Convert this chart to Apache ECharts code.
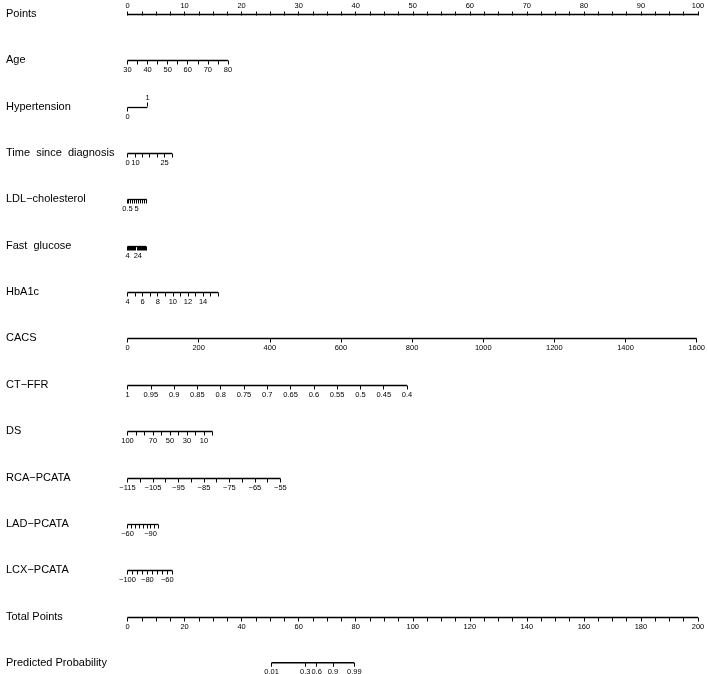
<!DOCTYPE html>
<html>
<head>
<meta charset="utf-8">
<script src="https://cdn.jsdelivr.net/npm/echarts/dist/echarts.min.js"></script>
<style>
  html, body { margin: 0; padding: 0; background: #fff; }
  #nomo { width: 708px; height: 674px; }
</style>
</head>
<body>
<div id="nomo"></div>
<script>
  // tick values per predictor
  const pointsTicks = [0, 2.5, 5, 7.5, 10, 12.5, 15, 17.5, 20, 22.5, 25, 27.5, 30, 32.5, 35, 37.5, 40, 42.5, 45, 47.5, 50,
    52.5, 55, 57.5, 60, 62.5, 65, 67.5, 70, 72.5, 75, 77.5, 80, 82.5, 85, 87.5, 90, 92.5, 95, 97.5, 100];
  const pointsLabels = [0, 10, 20, 30, 40, 50, 60, 70, 80, 90, 100];
  const ageTicks = [30, 35, 40, 45, 50, 55, 60, 65, 70, 75, 80];
  const ageLabels = [30, 40, 50, 60, 70, 80];
  const hyperDown = [0];
  const hyperUp = [1];
  // time since diagnosis is non-linear: ticks given directly in points
  const timePts = [0, 1.3, 2.6, 3.9, 5.2, 6.5, 7.8];
  const timeLabelPts = [0, 1.4, 6.5];
  const timeLabelText = ['0', '10', '25'];
  const ldlTicks = [0.5, 1, 2, 3, 4, 5, 6, 7, 8, 9, 10];
  const ldlLabels = [0.5, 5];
  const glucoseTicks = [4, 6, 8, 10, 12, 14, 16, 18, 20, 22, 24, 26, 28, 30, 32, 34, 36, 38, 40];
  const glucoseLabels = [4, 24];
  const hba1cTicks = [4, 5, 6, 7, 8, 9, 10, 11, 12, 13, 14, 15, 16];
  const hba1cLabels = [4, 6, 8, 10, 12, 14];
  const cacsTicks = [0, 200, 400, 600, 800, 1000, 1200, 1400, 1600];
  const ctffrTicks = [1, 0.95, 0.9, 0.85, 0.8, 0.75, 0.7, 0.65, 0.6, 0.55, 0.5, 0.45, 0.4];
  const dsTicks = [100, 90, 80, 70, 60, 50, 40, 30, 20, 10, 0];
  const dsLabels = [100, 70, 50, 30, 10];
  const rcaTicks = [-115, -110, -105, -100, -95, -90, -85, -80, -75, -70, -65, -60, -55];
  const rcaLabels = [-115, -105, -95, -85, -75, -65, -55];
  const ladTicks = [-60, -65, -70, -75, -80, -85, -90, -95, -100];
  const ladLabels = [-60, -90];
  const lcxTicks = [-100, -95, -90, -85, -80, -75, -70, -65, -60, -55];
  const lcxLabels = [-100, -80, -60];
  const totalTicks = [0, 5, 10, 15, 20, 25, 30, 35, 40, 45, 50, 55, 60, 65, 70, 75, 80, 85, 90, 95, 100,
    105, 110, 115, 120, 125, 130, 135, 140, 145, 150, 155, 160, 165, 170, 175, 180, 185, 190, 195, 200];
  const totalLabels = [0, 20, 40, 60, 80, 100, 120, 140, 160, 180, 200];
  // predicted probability placed on the total points scale
  const probTotal = [50.5, 62.3, 66.3, 72, 79.5];
  const probText = ['0.01', '0.3', '0.6', '0.9', '0.99'];

  // [value, points] at both ends of each scale
  const identityEnds = [[0, 0], [100, 100]];
  const ageEnds = [[30, 0], [80, 17.6]];
  const hyperEnds = [[0, 0], [1, 3.5]];
  const ldlEnds = [[0.5, 0], [10, 3.37]];
  const glucoseEnds = [[4, 0], [40, 3.25]];
  const hba1cEnds = [[4, 0], [16, 15.9]];
  const cacsEnds = [[0, 0], [1600, 100]];
  const ctffrEnds = [[1, 0], [0.4, 49]];
  const dsEnds = [[100, 0], [0, 14.9]];
  const rcaEnds = [[-115, 0], [-55, 26.8]];
  const ladEnds = [[-60, 0], [-100, 5.4]];
  const lcxEnds = [[-100, 0], [-55, 7.85]];
  const totalEnds = [[0, 0], [200, 100]];

  const rows = [
    { name: 'Points', ticks: pointsTicks, labels: pointsLabels, ends: identityEnds, top: true },
    { name: 'Age', ticks: ageTicks, labels: ageLabels, ends: ageEnds },
    { name: 'Hypertension', ticks: hyperDown, labels: hyperDown, up: hyperUp, ends: hyperEnds },
    { name: 'Time  since  diagnosis', ticks: timePts, labels: timeLabelPts, text: timeLabelText, ends: identityEnds },
    { name: 'LDL\u2212cholesterol', ticks: ldlTicks, labels: ldlLabels, ends: ldlEnds },
    { name: 'Fast  glucose', ticks: glucoseTicks, labels: glucoseLabels, ends: glucoseEnds },
    { name: 'HbA1c', ticks: hba1cTicks, labels: hba1cLabels, ends: hba1cEnds },
    { name: 'CACS', ticks: cacsTicks, labels: cacsTicks, ends: cacsEnds },
    { name: 'CT\u2212FFR', ticks: ctffrTicks, labels: ctffrTicks, ends: ctffrEnds },
    { name: 'DS', ticks: dsTicks, labels: dsLabels, ends: dsEnds },
    { name: 'RCA\u2212PCATA', ticks: rcaTicks, labels: rcaLabels, ends: rcaEnds },
    { name: 'LAD\u2212PCATA', ticks: ladTicks, labels: ladLabels, ends: ladEnds },
    { name: 'LCX\u2212PCATA', ticks: lcxTicks, labels: lcxLabels, ends: lcxEnds },
    { name: 'Total Points', ticks: totalTicks, labels: totalLabels, ends: totalEnds },
    { name: 'Predicted Probability', ticks: probTotal, labels: probTotal, text: probText, ends: totalEnds },
  ];

  const FONT = '"Liberation Sans", Arial, Helvetica, sans-serif';
  const grid = [], xAxis = [], yAxis = [], series = [], graphic = [];

  function numText(v) {
    return String(+v.toFixed(2)).replace('-', '\u2212');
  }

  rows.forEach((r, i) => {
    const y = Math.round(14 + i * 46.35) + 0.5;
    const [[v0, p0], [v1, p1]] = r.ends;
    const k = (v1 - v0) / (p1 - p0);
    const a = v0 - p0 * k; // value at 0 points
    const b = v0 + (100 - p0) * k; // value at 100 points

    grid.push({ left: 127.5, right: 10, top: r.top ? y : y - 1, height: 1 });
    yAxis.push({ gridIndex: i, type: 'value', min: 0, max: 1, show: false });

    const makeAxis = (pos, ticks, labels, text) => ({
      gridIndex: i,
      type: 'value',
      position: pos,
      min: Math.min(a, b),
      max: Math.max(a, b),
      inverse: a > b,
      axisLine: { show: false },
      splitLine: { show: false },
      axisTick: { show: true, customValues: ticks, length: 4, lineStyle: { color: '#000', width: 1 } },
      axisLabel: {
        customValues: labels,
        showMinLabel: true,
        showMaxLabel: true,
        margin: 5,
        fontSize: 7.5,
        fontFamily: FONT,
        color: '#000',
        formatter: (v) => {
          if (!text) return numText(v);
          const j = labels.findIndex((l) => Math.abs(l - v) < 1e-9);
          return j >= 0 ? text[j] : '';
        },
      },
    });

    const xi = xAxis.length;
    xAxis.push(makeAxis(r.top ? 'top' : 'bottom', r.ticks, r.labels, r.text));
    if (r.up) {
      xAxis.push(makeAxis('top', r.up, r.up));
    }

    const all = r.ticks.concat(r.up || []);
    const lo = Math.min(...all), hi = Math.max(...all);
    const yv = r.top ? 1 : 0;
    series.push({
      type: 'line',
      xAxisIndex: xi,
      yAxisIndex: i,
      data: [[lo, yv], [hi, yv]],
      symbol: 'none',
      clip: false,
      silent: true,
      lineStyle: { color: '#000', width: 1.3 },
    });

    graphic.push({
      type: 'text',
      x: 6,
      y: y - 1,
      style: { text: r.name, fontSize: 11, fontFamily: FONT, fill: '#000', verticalAlign: 'middle' },
    });
  });

  const chart = echarts.init(document.getElementById('nomo'));
  chart.setOption({
    animation: false,
    backgroundColor: '#fff',
    grid,
    xAxis,
    yAxis,
    series,
    graphic,
  });
</script>
</body>
</html>
